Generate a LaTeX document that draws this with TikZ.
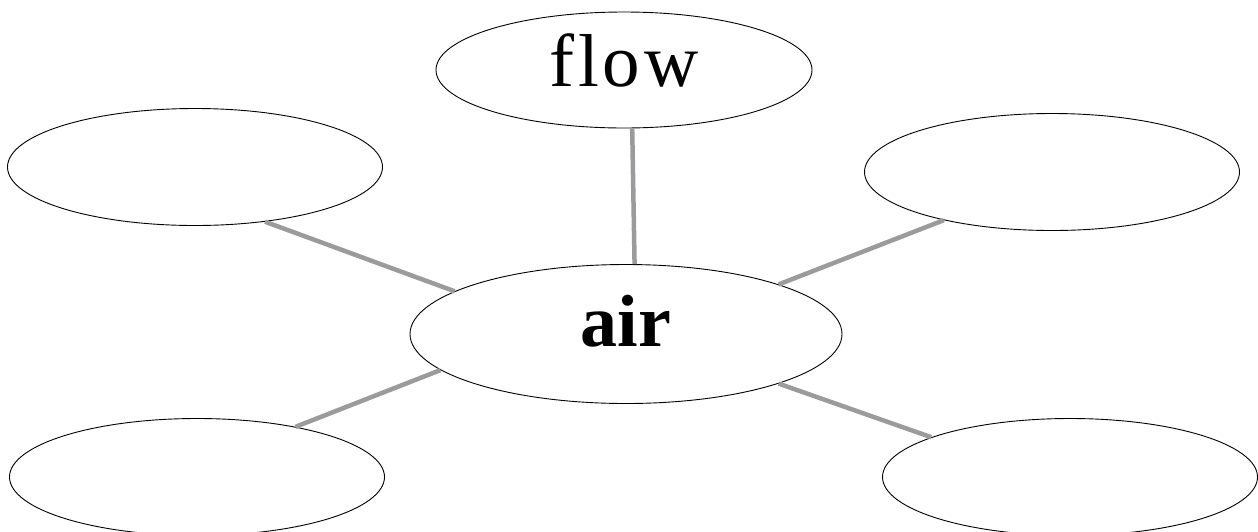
\documentclass[tikz,border=0pt]{standalone}
\usepackage{fontspec}
\setmainfont{Liberation Serif}
\usetikzlibrary{shapes.geometric}
\definecolor{spoke}{HTML}{9B9B9D}

\begin{document}
\begin{tikzpicture}[
  x=1pt,y=-1pt,
  bubble/.style={draw=black,ellipse,line width=0.9pt,inner sep=0pt,minimum width=375pt,minimum height=117pt,fill=white},
  hub/.style={bubble,minimum width=432pt,minimum height=139pt},
  sp/.style={spoke,line width=4.5pt},
]
\useasboundingbox (0,0) rectangle (1258,531);
\node[hub] (air) at (626,334) {\raisebox{26pt}{\fontsize{74}{80}\selectfont\bfseries air}};
\node[bubble,minimum width=376pt,minimum height=116pt] (flow) at (624,70) {\raisebox{19pt}{\fontsize{75}{80}\selectfont\addfontfeature{LetterSpace=5}flow}};
\node[bubble] (tl) at (195,167) {};
\node[bubble] (tr) at (1052,172) {};
\node[bubble] (bl) at (197,477) {};
\node[bubble] (br) at (1070,477) {};
\foreach \n/\a/\b in {flow/-82.3/83.3,tl/-38/166.3,tr/204/18.2,bl/27/191.5,br/164.4/-18}
  \draw[sp] (\n.\a) -- (air.\b);
\end{tikzpicture}
\end{document}
